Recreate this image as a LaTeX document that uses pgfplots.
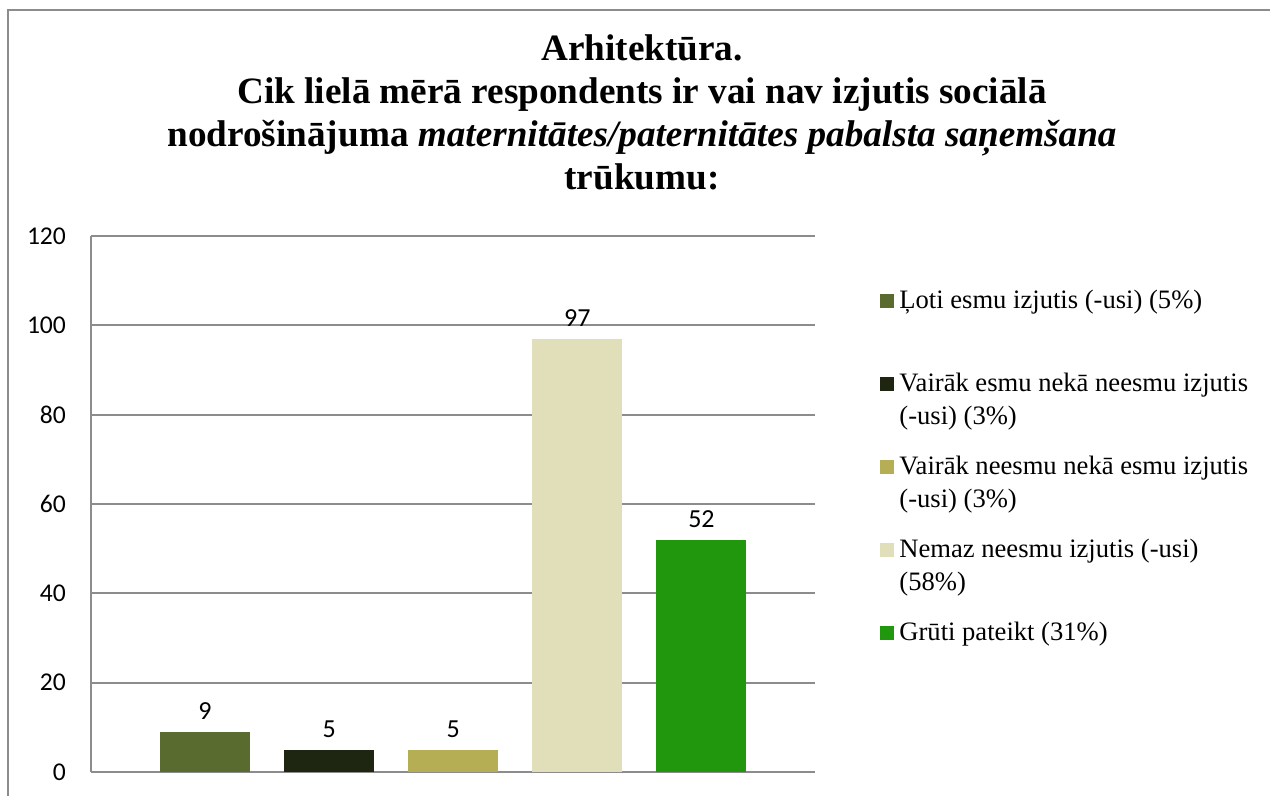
\documentclass[border=0pt]{standalone}
\usepackage{fontspec}
\setmainfont{Liberation Serif}
\newfontfamily\carlito{Carlito}
\usepackage{pgfplots}
\pgfplotsset{compat=1.18}

\definecolor{c1}{HTML}{5A6B2F}
\definecolor{c2}{HTML}{1E2510}
\definecolor{c3}{HTML}{B5AE55}
\definecolor{c4}{HTML}{E1DFBA}
\definecolor{c5}{HTML}{21970D}
\definecolor{gridgray}{HTML}{8C8C8C}

\newcommand{\entry}[1]{\parbox[t][41.5pt][t]{190pt}{\strut #1}}

\begin{document}
\begin{tikzpicture}
\path[use as bounding box] (0,0) rectangle (635pt,398pt);
% outer chart frame (right and bottom edges are cut off in the original)
\draw[gridgray, line width=1pt] (4pt,-1pt) -- (4pt,393pt) -- (636pt,393pt);
\node[anchor=north, align=center, inner sep=0pt,
      font=\bfseries\fontsize{18.6}{21.5}\selectfont] at (321pt,381pt)
  {Arhitektūra.\\
   Cik lielā mērā respondents ir vai nav izjutis sociālā\\
   nodrošinājuma \textit{maternitātes/paternitātes pabalsta saņemšana}\\
   trūkumu:};
\begin{axis}[
    at={(45.5pt,12pt)}, anchor=south west,
    scale only axis, width=362pt, height=268pt,
    ybar, bar width=45pt, bar shift=0pt,
    xmin=-0.919, xmax=4.915, ymin=0, ymax=120,
    ytick={0,20,...,120}, xtick=\empty,
    axis lines*=left,
    axis line style={gridgray, line width=0.9pt},
    ymajorgrids, grid style={gridgray, line width=0.9pt},
    major tick length=0pt,
    /pgf/number format/assume math mode=true,
    yticklabel style={font=\carlito\fontsize{12.8}{15}\selectfont, xshift=-9pt},
    nodes near coords,
    every node near coord/.append style={font=\carlito\fontsize{13}{15}\selectfont, text=black, yshift=2.5pt},
    legend style={at={(1.0898,0.9086)}, anchor=north west, draw=none, fill=none,
        inner sep=0pt, row sep=0pt, column sep=2.5pt,
        cells={anchor=base west}, nodes={inner sep=0pt, text depth={}},
        font=\fontsize{13.3}{16.5}\selectfont},
    legend image code/.code={\fill[#1,draw=none] (0pt,0pt) rectangle (7pt,7pt);},
]
\addplot[fill=c1, draw=none] coordinates {(0,9)};
\addlegendentry{\entry{Ļoti esmu izjutis (-usi) (5\%)}}
\addplot[fill=c2, draw=none] coordinates {(1,5)};
\addlegendentry{\entry{Vairāk esmu nekā neesmu izjutis\\(-usi) (3\%)}}
\addplot[fill=c3, draw=none] coordinates {(2,5)};
\addlegendentry{\entry{Vairāk neesmu nekā esmu izjutis\\(-usi) (3\%)}}
\addplot[fill=c4, draw=none] coordinates {(3,97)};
\addlegendentry{\entry{Nemaz neesmu izjutis (-usi)\\(58\%)}}
\addplot[fill=c5, draw=none] coordinates {(4,52)};
\addlegendentry{\entry{Grūti pateikt (31\%)}}
\end{axis}
\end{tikzpicture}
\end{document}
